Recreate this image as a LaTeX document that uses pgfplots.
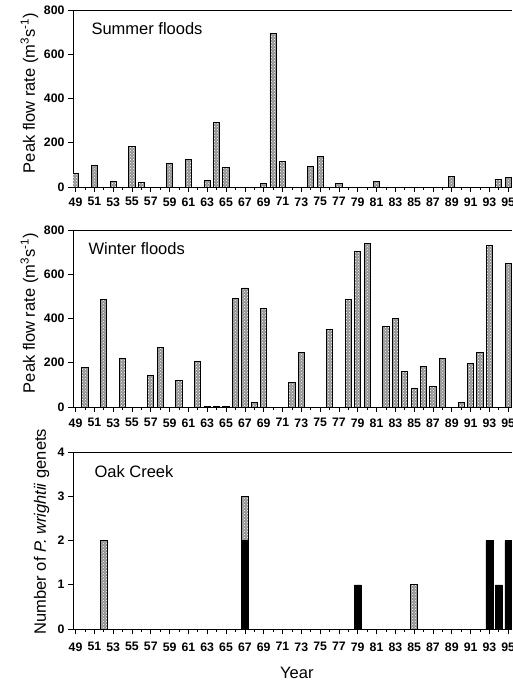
\documentclass[border=0pt]{standalone}
\usepackage{pgfplots}
\pgfplotsset{compat=1.18}
\usepackage{pgfplotstable}
\usepackage{fontspec}
\setmainfont{Liberation Sans}
\usetikzlibrary{patterns}

\pgfplotstableread{
year flow
49 63
51 99
53 27
55 182
56 19
59 108
61 126
63 31
64 290
65 90
69 18
70 695
71 115
74 92
75 140
77 16
81 25
89 46
94 36
95 44
}\summer

\pgfplotstableread{
year flow
50 178
52 484
54 218
57 144
58 269
60 121
62 204
63 4
64 4
65 4
66 490
67 538
68 21
69 445
72 112
73 245
76 351
78 487
79 703
80 741
82 366
83 399
84 162
85 86
86 184
87 94
88 218
90 21
91 197
92 248
93 732
95 649
}\winter

\pgfplotstableread{
year black pat
52 0 2
67 2 1
79 1 0
85 0 1
93 2 0
94 1 0
95 2 0
}\genets

\pgfplotsset{
  panel/.style={
    scale only axis, width=439pt, height=177pt,
    xmin=48.73, xmax=95.4,
    axis y line*=left, axis x line*=box,
    xtick pos=bottom,
    axis line style={line width=0.8pt},
    tick align=outside,
    major tick length=5pt, minor tick length=3pt,
    tick style={black, line width=0.7pt},
    xtick={49,51,...,95}, minor xtick={50,52,...,94},
    /pgf/number format/assume math mode=true,
    ticklabel style={font=\bfseries\fontsize{12.3}{14}\selectfont},
    xticklabel shift=2pt,
    ylabel style={at={(axis description cs:-0.087,0.53)}, anchor=base, font=\fontsize{16.5}{19}\selectfont},
    enlarge y limits=false,
  },
  patbar/.style={fill=gray!85, draw=black, line width=0.9pt,
    postaction={pattern=crosshatch dots, pattern color=white}},
}

\begin{document}
\begin{tikzpicture}[x=1pt,y=1pt]
\useasboundingbox (0,0) rectangle (512,683);

% Summer
\begin{axis}[panel, at={(73pt,496pt)}, anchor=south west,
  ybar, bar width=0.66,
  ymin=0, ymax=800, ytick={0,200,...,800},
  ylabel={Peak flow rate (m\textsuperscript{3}s\textsuperscript{-1})}]
\addplot[patbar] table[x=year,y=flow]{\summer};
\end{axis}

% Winter
\begin{axis}[panel, at={(73pt,276pt)}, anchor=south west,
  ybar, bar width=0.66,
  ymin=0, ymax=800, ytick={0,200,...,800},
  xticklabel shift=3pt,
  ylabel={Peak flow rate (m\textsuperscript{3}s\textsuperscript{-1})}]
\addplot[patbar] table[x=year,y=flow]{\winter};
\end{axis}

% Oak Creek
\begin{axis}[panel, at={(73pt,54pt)}, anchor=south west,
  ybar stacked, bar width=0.74,
  ymin=0, ymax=4, ytick={0,1,...,4},
  xticklabel shift=5pt,
  ylabel={Number of \textit{P. wrightii} genets},
  ylabel style={at={(axis description cs:-0.062,0.55)}},
  xlabel={Year},
  xlabel style={at={(axis description cs:0.51,-0.277)}, anchor=base, font=\fontsize{16.5}{19}\selectfont}]
\addplot[fill=black, draw=black, line width=0.5pt] table[x=year,y=black]{\genets};
\addplot[patbar] table[x=year,y=pat]{\genets};
\end{axis}

\node[anchor=base west, font=\fontsize{16.5}{19}\selectfont] at (88,648) {Summer floods};
\node[anchor=base west, font=\fontsize{16.5}{19}\selectfont] at (85,428) {Winter floods};
\node[anchor=base west, font=\fontsize{16.5}{19}\selectfont] at (91,205) {Oak Creek};
\end{tikzpicture}
\end{document}
